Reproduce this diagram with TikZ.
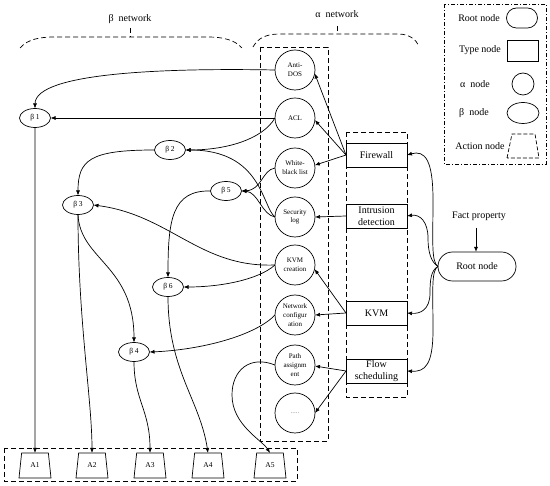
\documentclass[tikz,border=0pt]{standalone}
\usepackage{fontspec}
\setmainfont{Liberation Serif}
\usetikzlibrary{shapes.geometric,arrows.meta}
\begin{document}
\begin{tikzpicture}[x=1pt,y=-1pt,
  every node/.style={inner sep=0pt,outer sep=0pt},
  ln/.style={line width=0.7pt},
  arr/.style={ln,-{Latex[length=5pt,width=4pt]}},
  anode/.style={circle,draw,ln,minimum size=40pt,align=center,font=\fontsize{7}{8.8}\selectfont},
  bnode/.style={ellipse,draw,ln,minimum width=31pt,minimum height=19pt,font=\fontsize{7.5}{9}\selectfont},
  tnode/.style={rectangle,draw,ln,minimum width=61pt,minimum height=24pt,align=center,font=\fontsize{10}{11.5}\selectfont},
  act/.style={trapezium,draw,ln,inner sep=1pt,trapezium stretches=true,trapezium angle=81,minimum width=32pt,minimum height=25pt,font=\fontsize{7.5}{9}\selectfont},
  lbl/.style={font=\fontsize{10}{12}\selectfont},
  dsh/.style={ln,dash pattern=on 5pt off 3pt},
  dshdot/.style={ln,dash pattern=on 4pt off 2pt on 1pt off 2pt}
]
\useasboundingbox (0,0) rectangle (550,486);

% group frames
\draw[dsh] (260,47) rectangle (328,441);
\draw[dsh] (346,132) rectangle (407,397);
\draw[dsh] (4,448) rectangle (297,481);
\draw[dshdot] (444,4) rectangle (546,164);

% braces
\node[lbl] (betanet) at (130,19) {β\ \ network};
\draw[dsh] (20,48) .. controls (28,39) and (40,37) .. (55,37) -- (208,37) .. controls (223,37) and (235,40) .. (242,48);
\draw[dsh] (130,28) -- (130,37);
\node[lbl] (alphanet) at (337,14) {α\ \ network};
\draw[dsh] (253,47) .. controls (258,38) and (266,34) .. (280,34) -- (398,34) .. controls (410,34) and (416,40) .. (419,46);
\draw[dsh] (337,26) -- (337,34);

% legend
\node[lbl] (lroot) at (479,18) {Root node};
\node[draw,ln,rounded corners=10pt,minimum width=31pt,minimum height=20pt] (lrootshape) at (522,18) {};
\node[lbl] (ltype) at (480,50) {Type node};
\node[draw,ln,minimum width=31pt,minimum height=21pt] (ltypeshape) at (522.5,50.5) {};
\node[lbl] (lalpha) at (475,84) {α\ \ node};
\node[circle,draw,ln,minimum size=22pt] (lalphashape) at (523,84) {};
\node[lbl] (lbeta) at (474,113) {β\ \ node};
\node[ellipse,draw,ln,minimum width=32pt,minimum height=21pt] (lbetashape) at (523,113) {};
\node[lbl] (laction) at (480,146) {Action node};
\draw[ln,dash pattern=on 4pt off 2pt] (507,158) -- (512,134) -- (535,134) -- (539,158) -- cycle;

% alpha nodes
\node[anode] (ad) at (295,70) {Anti-\\DOS};
\node[anode] (acl) at (295,118) {ACL};
\node[anode] (wb) at (295,168) {White-\\black list};
\node[anode] (sl) at (295,217) {Security\\log};
\node[anode] (kc) at (295,265) {KVM\\creation};
\node[anode] (nc) at (295,315) {Network\\configur\\ation};
\node[anode] (pa) at (295,365) {Path\\assignm\\ent};
\node[anode] (dots) at (295,413) {\textcolor{gray}{.....}};

% type nodes
\node[tnode] (fw) at (376.5,155) {Firewall};
\node[tnode] (id) at (376.5,216) {Intrusion\\detection};
\node[tnode] (kvm) at (376.5,313) {KVM};
\node[tnode] (fs) at (376.5,371) {Flow\\scheduling};

% root
\node[draw,ln,rounded corners=14.5pt,minimum width=78pt,minimum height=29pt,lbl] (root) at (477,266.5) {Root node};
\node[lbl] (fact) at (479,216) {Fact property};
\coordinate (fa) at (476,228);
\draw[-{Latex[length=5pt,width=4pt]},line width=0.9pt] (fa) -- (fa |- root.north);

% beta nodes
\node[bnode] (b1) at (35,118) {β 1};
\node[bnode] (b2) at (170,150) {β 2};
\node[bnode] (b3) at (78,205) {β 3};
\node[bnode] (b5) at (226,191) {β 5};
\node[bnode] (b6) at (168,287) {β 6};
\node[bnode] (b4) at (134,352) {β 4};

% action nodes
\node[act] (a1) at (35,465.5) {A1};
\node[act] (a2) at (92,465.5) {A2};
\node[act] (a3) at (150,465.5) {A3};
\node[act] (a4) at (208,465.5) {A4};
\node[act] (a5) at (270,465.5) {A5};

% root -> type
\draw[arr] (root.west) .. controls (431,262) and (433,240) .. (433,200) .. controls (433,160) and (425,150) .. (fw.east);
\draw[arr] (root.west) .. controls (431,262) and (428,252) .. (428,238) .. controls (428,222) and (420,214) .. (id.east);
\draw[arr] (root.west) .. controls (431,270) and (430,280) .. (430,293) .. controls (430,310) and (420,314) .. (kvm.east);
\draw[arr] (root.west) .. controls (431,270) and (433,292) .. (433,330) .. controls (433,365) and (425,372) .. (fs.east);

% type -> alpha
\draw[arr] (fw.west) -- (ad.-10);
\draw[arr] (fw.west) -- (acl.-6);
\draw[arr] (fw.west) -- (wb.8);
\draw[arr] (id.west) -- (sl.east);
\draw[arr] (kvm.west) -- (kc.-12);
\draw[arr] (kvm.west) -- (nc.east);
\draw[arr] (fs.west) -- (pa.-3);
\draw[arr] (fs.west) -- (dots.east);

% alpha -> beta
\draw[arr] (ad.west) .. controls (170,68) and (35,72) .. (b1.north);
\draw[arr] (acl.west) -- (b1.east);
\draw[arr] (acl.west) .. controls (262,140) and (225,150) .. (b2.east);
\draw[arr] (sl.west) .. controls (262,207) and (262,150) .. (b2.east);
\draw[arr] (wb.west) .. controls (262,170) and (262,190) .. (b5.east);
\draw[arr] (sl.west) .. controls (262,215) and (258,192) .. (b5.east);
\draw[arr] (kc.west) .. controls (200,268) and (170,215) .. (b3.east);
\draw[arr] (kc.west) .. controls (258,280) and (220,287) .. (b6.east);
\draw[arr] (nc.west) .. controls (255,336) and (200,350) .. (b4.east);

% beta -> beta
\draw[arr] (b2.west) .. controls (90,150) and (78,160) .. (b3.north);
\draw[arr] (b5.west) .. controls (172,190) and (168,220) .. (b6.north);
\draw[arr] (b3.south) .. controls (80,260) and (134,265) .. (b4.north);

% to actions
\draw[arr] (b1.south) -- (a1.north);
\draw[arr] (b3.south) .. controls (78,320) and (92,400) .. (a2.north);
\draw[arr] (b4.south) .. controls (134,400) and (150,410) .. (a3.north);
\draw[arr] (b6.south) .. controls (168,370) and (200,400) .. (a4.north);
\draw[arr] (pa.west) .. controls (250,355) and (232,370) .. (232,395) .. controls (232,425) and (262,440) .. (a5.north);
\end{tikzpicture}
\end{document}
